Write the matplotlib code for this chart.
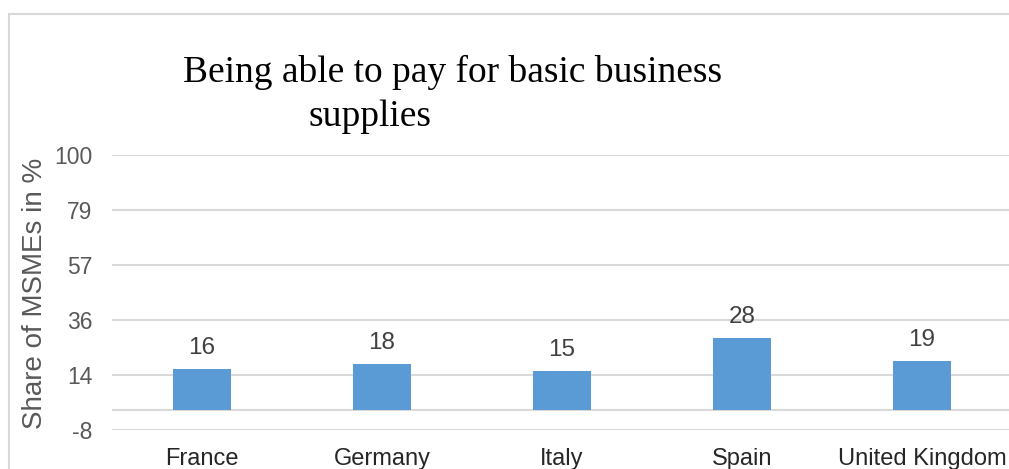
import matplotlib.pyplot as plt
from matplotlib.patches import Rectangle

countries = ["France", "Germany", "Italy", "Spain", "United Kingdom"]
shares = [16, 18, 15, 28, 19]
ytick_values = [-8, 13.6, 35.2, 56.8, 78.4, 100]
ytick_labels = ["-8", "14", "36", "57", "79", "100"]

grid_col = "#d9d9d9"
bar_col = "#5b9bd5"

fig = plt.figure(figsize=(10.09, 4.69), dpi=100)
ax = fig.add_axes([0.111, 0.0832, 0.892, 0.5863])

# outer chart frame (only left and top edges fall inside the image)
fig.patches.append(Rectangle((0.0089, -0.5), 1.5, 1.5 - 0.0299, transform=fig.transFigure,
                             fill=False, edgecolor=grid_col, linewidth=1.5, zorder=0))

x = range(len(countries))
bars = ax.bar(x, shares, width=0.317, color=bar_col, zorder=3)
for xi, v in zip(x, shares):
    ax.text(xi, v + 4, str(v), ha="center", va="bottom", fontsize=17.5,
            color="#404040", family="Liberation Sans")

ax.set_xlim(-0.5, 4.5)
ax.set_ylim(-8, 100)
ax.set_yticks(ytick_values)
ax.set_yticklabels(ytick_labels, fontsize=16.5, color="#595959", family="Liberation Sans")
ax.set_xticks(list(x))
ax.set_xticklabels(countries, fontsize=17, color="#262626", family="Liberation Sans")
ax.tick_params(axis="both", length=0)
ax.tick_params(axis="y", pad=14)
ax.tick_params(axis="x", pad=13)

for yv in ytick_values:
    ax.axhline(yv, color=grid_col, linewidth=1.5, zorder=1)
ax.axhline(0, color=grid_col, linewidth=1.5, zorder=2)
for s in ax.spines.values():
    s.set_visible(False)

ax.set_ylabel("Share of MSMEs in %", fontsize=20, color="#595959",
              family="Liberation Sans")
ax.yaxis.set_label_coords(-0.071, 0.495)

fig.text(0.449, 0.845, "Being able to pay for basic business", ha="center", va="center",
         fontsize=27, family="Liberation Serif", color="black")
fig.text(0.367, 0.752, "supplies", ha="center", va="center",
         fontsize=27, family="Liberation Serif", color="black")

fig.savefig("out.png", dpi=100)
